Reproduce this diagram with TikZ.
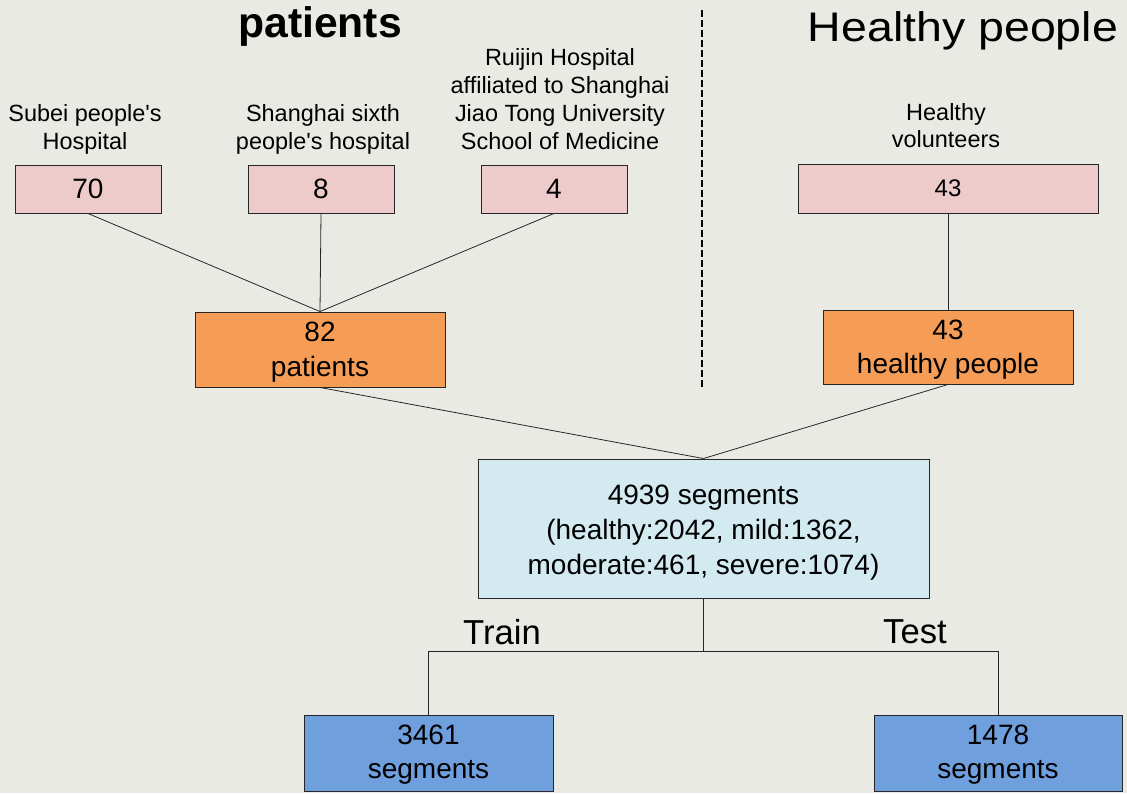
\documentclass[tikz,border=0pt]{standalone}
\usepackage{fontspec}
\setmainfont{Liberation Sans}[Ligatures=TeXOff]
\definecolor{bgcol}{HTML}{EAEAE5}
\definecolor{pinkfill}{HTML}{EDCBCB}
\definecolor{orangefill}{HTML}{F59D56}
\definecolor{lbluefill}{HTML}{D2EAF0}
\definecolor{bluefill}{HTML}{6F9FDC}
\definecolor{edge}{HTML}{262626}
\begin{document}
\begin{tikzpicture}[x=0.75pt,y=-0.75pt,
  box/.style={draw=edge, line width=0.7pt, inner sep=0pt, align=center},
  numtext/.style={font=\fontsize{21pt}{26pt}\selectfont, align=center, inner sep=0pt},
  smalltext/.style={font=\fontsize{17.6pt}{21pt}\selectfont, align=center, inner sep=0pt},
  link/.style={draw=edge, line width=0.6pt},
  divider/.style={draw=black, line width=1.5pt, dash pattern=on 5pt off 2.5pt}]
\useasboundingbox (0,0) rectangle (1127,793);
\fill[bgcol] (0,0) rectangle (1127,793);

% titles
\node[font=\fontsize{32pt}{38pt}\selectfont\bfseries, inner sep=0pt, anchor=base] (tpat) at (320,37) {patients};
\node[font=\fontsize{31pt}{38pt}\selectfont, inner sep=0pt, anchor=base, xscale=1.125] (thea) at (963,41) {Healthy people};

% source labels
\node[smalltext] (lsub) at (85,129) {Subei people's\\Hospital};
\node[smalltext] (lsix) at (323,129) {Shanghai sixth\\people's hospital};
\node[smalltext] (lrui) at (560,99) {Ruijin Hospital\\affiliated to Shanghai\\Jiao Tong University\\School of Medicine};
\node[smalltext, font=\fontsize{17.6pt}{20.25pt}\selectfont] (lvol) at (946,126) {Healthy\\volunteers};

% source boxes
\node[box, fill=pinkfill, minimum width=109.5pt, minimum height=36pt, numtext] (b70) at (88,189) {70};
\node[box, fill=pinkfill, minimum width=109.5pt, minimum height=36pt, numtext] (b8) at (321,189) {8};
\node[box, fill=pinkfill, minimum width=109.5pt, minimum height=36pt, numtext] (b4) at (554,189) {4};
\node[box, fill=pinkfill, minimum width=225pt, minimum height=36.75pt, font=\fontsize{18pt}{22pt}\selectfont] (bh) at (948,188.5) {43};

% groups
\node[box, fill=orangefill, minimum width=187.5pt, minimum height=56.25pt] (bp) at (320,349.5) {};
\node[numtext] (tp) at ([yshift=-2pt]bp.center) {82\\patients};
\node[box, fill=orangefill, minimum width=187.5pt, minimum height=55.5pt] (bhp) at (948,347) {};
\node[numtext] (thp) at ([yshift=-2pt]bhp.center) {43\\healthy people};

% segments
\node[box, fill=lbluefill, minimum width=338.25pt, minimum height=104.25pt] (bseg) at (703.5,528.5) {};
\node[numtext] (tseg) at ([yshift=-3pt]bseg.center) {4939 segments\\ (healthy:2042, mild:1362,\\moderate:461, severe:1074)};

% splits
\node[box, fill=bluefill, minimum width=186.75pt, minimum height=57pt] (btr) at (428.5,753) {};
\node[numtext] (ttr) at ([yshift=-1.2pt]btr.center) {3461\\segments};
\node[box, fill=bluefill, minimum width=186pt, minimum height=57pt] (bte) at (998,753) {};
\node[numtext] (tte) at ([yshift=-1.2pt]bte.center) {1478\\segments};

\node[font=\fontsize{26pt}{30pt}\selectfont, inner sep=0pt] (ltr) at (502,632) {Train};
\node[font=\fontsize{26pt}{30pt}\selectfont, inner sep=0pt] (lte) at (915,632) {Test};

% connectors
\draw[link] (b70.south) -- (bp.north);
\draw[link] (b8.south) -- (bp.north);
\draw[link] (b4.south) -- (bp.north);
\draw[link] (bh.south) -- (bhp.north);
\draw[link] (bp.south) -- (bseg.north);
\draw[link] (bhp.south) -- (bseg.north);
\coordinate (split) at (703.5,651);
\draw[link] (bseg.south) -- (split);
\draw[link] (btr.north) |- (split) -| (bte.north);

% divider
\coordinate (d1) at (702,10);
\coordinate (d2) at (702,388);
\draw[divider] (d1) -- (d2);
\end{tikzpicture}
\end{document}
